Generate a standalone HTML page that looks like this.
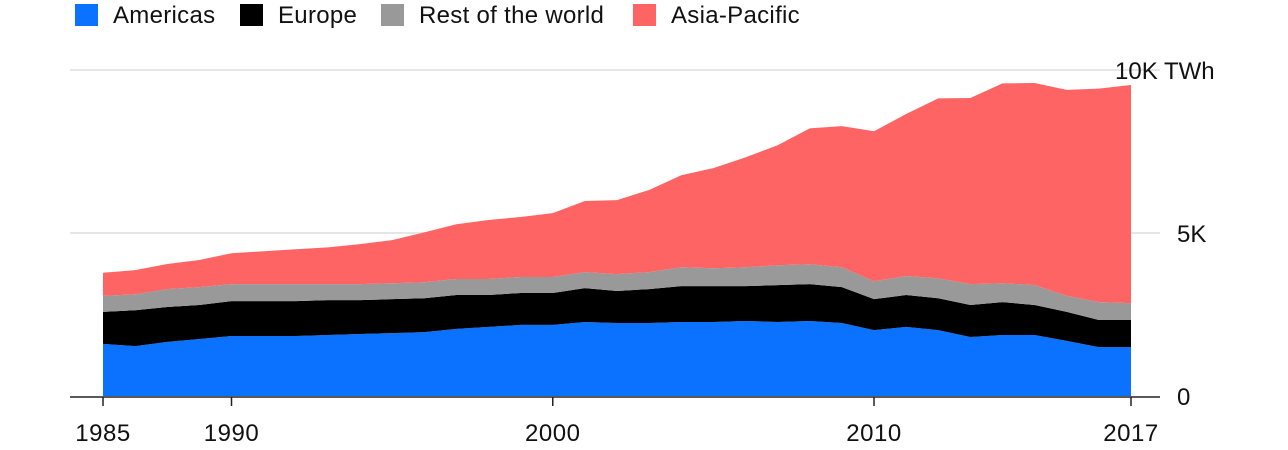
<!DOCTYPE html>
<html><head><meta charset="utf-8"><style>
body{margin:0;background:#fff;width:1288px;height:450px;overflow:hidden;font-family:"Liberation Sans",sans-serif}
</style></head><body>
<svg id="chart" width="1288" height="450" style="position:absolute;left:0;top:0"></svg>
<script>
const years=[1985,1986,1987,1988,1989,1990,1991,1992,1993,1994,1995,1996,1997,1998,1999,2000,2001,2002,2003,2004,2005,2006,2007,2008,2009,2010,2011,2012,2013,2014,2015,2016,2017];
const americas=[1.60,1.53,1.66,1.75,1.84,1.84,1.84,1.87,1.90,1.93,1.96,2.06,2.12,2.18,2.18,2.27,2.24,2.24,2.27,2.27,2.30,2.27,2.30,2.24,2.02,2.12,2.02,1.81,1.87,1.87,1.69,1.50,1.50];
const europe=[0.98,1.10,1.07,1.04,1.07,1.07,1.07,1.07,1.04,1.04,1.04,1.04,0.98,0.98,0.98,1.04,0.98,1.04,1.10,1.10,1.07,1.13,1.13,1.10,0.95,0.98,0.98,0.98,1.01,0.92,0.89,0.83,0.83];
const restOfWorld=[0.49,0.49,0.55,0.55,0.52,0.52,0.52,0.49,0.49,0.49,0.49,0.49,0.49,0.49,0.49,0.49,0.52,0.52,0.58,0.55,0.58,0.61,0.61,0.61,0.55,0.58,0.61,0.64,0.58,0.61,0.49,0.55,0.52];
const asiaPacific=[0.71,0.74,0.77,0.83,0.95,1.01,1.07,1.13,1.23,1.32,1.53,1.68,1.81,1.84,1.96,2.18,2.27,2.52,2.82,3.07,3.37,3.68,4.17,4.33,4.60,4.97,5.52,5.71,6.13,6.20,6.32,6.55,6.69];
const xTicks=[1985,1990,2000,2010,2017];
const yTicks=[0,5,10];
const yTickLabels=["0","5K","10K TWh"];

const NS="http://www.w3.org/2000/svg";
const svg=document.getElementById('chart');
const x=y=>103+(y-1985)*(1131-103)/32;
const xTick=t=>(t===xTicks[0]||t===xTicks[xTicks.length-1])?x(t):x(t-1);
const yS=v=>396-v*32.6;
function el(t,a,p){const e=document.createElementNS(NS,t);for(const k in a)e.setAttribute(k,a[k]);(p||svg).appendChild(e);return e;}

yTicks.forEach((t,i)=>{
  if(t===0)return;
  const g=el('line',{x1:70,x2:1160,y1:yS(t),y2:yS(t),stroke:'#e6e6e6','stroke-width':2});
  
  
});

const series=[{n:'americas',d:americas,c:'#0a72ff'},{n:'europe',d:europe,c:'#000000'},{n:'rest-of-world',d:restOfWorld,c:'#999999'},{n:'asia-pacific',d:asiaPacific,c:'#ff6464'}];
let base=years.map(()=>0);
series.forEach(s=>{
  const top=base.map((b,i)=>b+s.d[i]);
  let d='M'+years.map((yr,i)=>x(yr)+','+yS(top[i])).join('L');
  for(let i=years.length-1;i>=0;i--)d+='L'+x(years[i])+','+yS(base[i]);
  d+='Z';
  const p=el('path',{d:d,fill:s.c});
  
  
  base=top;
});

const bl=el('line',{x1:70,x2:1160,y1:397,y2:397,stroke:'#222','stroke-width':1.5});



xTicks.forEach(t=>{
  const tk=el('line',{x1:xTick(t),x2:xTick(t),y1:397,y2:406,stroke:'#222','stroke-width':1.5});
  
  
  const tx=el('text',{x:xTick(t),y:441,'text-anchor':'middle','font-size':24,'letter-spacing':0.5,fill:'#111'});
  tx.textContent=t;
  
  
});

yTicks.forEach((t,i)=>{
  const tx=el('text',{x:t===10?1115:1177,y:yS(t)+9,'font-size':24,fill:'#111'});
  tx.textContent=yTickLabels[i];
  
  
});

const legend=[['Americas','#0a72ff',75],['Europe','#000000',240],['Rest of the world','#999999',381],['Asia-Pacific','#ff6464',633]];
legend.forEach(l=>{
  const r=el('rect',{x:l[2],y:4,width:23,height:22,fill:l[1]});
  
  
  const t=el('text',{x:l[2]+38,y:23,'font-size':24,'letter-spacing':0.3,fill:'#111'});
  t.textContent=l[0];
  
  
});
</script>
</body></html>
